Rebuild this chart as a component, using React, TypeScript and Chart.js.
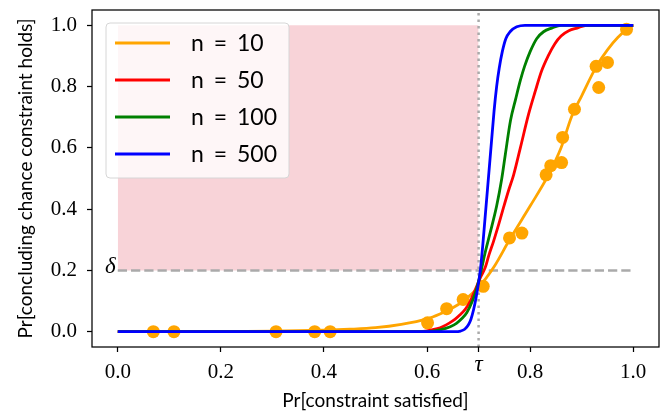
import React, { useEffect, useRef } from 'react';
import { Chart, registerables } from 'chart.js';

Chart.register(...registerables);

// ---- data ----
const seriesLabels = ['n = 10', 'n = 50', 'n = 100', 'n = 500'];
const seriesColors = ['#FFA500', '#FF0000', '#008000', '#0000FF'];

const n10X = [0, 0.1, 0.2, 0.3, 0.4, 0.45, 0.5, 0.55, 0.6, 0.625, 0.65, 0.67, 0.7, 0.73, 0.76, 0.8, 0.835, 0.86, 0.88, 0.9, 0.93, 0.95, 0.97, 0.99, 1.0];
const n10Y = [0, 0, 0.0005, 0.002, 0.005, 0.008, 0.013, 0.024, 0.042, 0.058, 0.078, 0.1, 0.145, 0.212, 0.3, 0.41, 0.51, 0.6, 0.7, 0.77, 0.87, 0.92, 0.96, 0.99, 1.0];

const n50X = [0, 0.58, 0.6, 0.62, 0.632, 0.643, 0.654, 0.664, 0.674, 0.684, 0.693, 0.703, 0.713, 0.72, 0.729, 0.739, 0.748, 0.758, 0.768, 0.781, 0.797, 0.81, 0.822, 0.835, 0.848, 0.86, 0.875, 0.891, 0.91, 1.0];
const n50Y = [0, 0, 0.003, 0.01, 0.018, 0.028, 0.04, 0.055, 0.073, 0.1, 0.135, 0.175, 0.21, 0.25, 0.295, 0.35, 0.403, 0.46, 0.512, 0.6, 0.71, 0.785, 0.85, 0.9, 0.94, 0.965, 0.982, 0.991, 1.0, 1.0];

const n100X = [0, 0.6, 0.625, 0.645, 0.657, 0.667, 0.677, 0.688, 0.697, 0.705, 0.713, 0.722, 0.735, 0.745, 0.752, 0.762, 0.772, 0.781, 0.789, 0.8, 0.813, 0.826, 0.842, 0.86, 1.0];
const n100Y = [0, 0, 0.006, 0.016, 0.027, 0.042, 0.062, 0.1, 0.145, 0.2, 0.26, 0.32, 0.41, 0.5, 0.58, 0.69, 0.76, 0.82, 0.865, 0.914, 0.957, 0.979, 0.991, 1.0, 1.0];

const n500X = [0, 0.655, 0.665, 0.673, 0.68, 0.685, 0.69, 0.695, 0.7, 0.704, 0.708, 0.712, 0.716, 0.72, 0.725, 0.73, 0.735, 0.74, 0.746, 0.753, 0.761, 0.774, 0.79, 1.0];
const n500Y = [0, 0, 0.002, 0.008, 0.022, 0.04, 0.07, 0.11, 0.16, 0.21, 0.28, 0.36, 0.44, 0.52, 0.62, 0.72, 0.8, 0.86, 0.914, 0.957, 0.979, 0.995, 1.0, 1.0];

const obsX = [0.069, 0.109, 0.307, 0.382, 0.412, 0.601, 0.638, 0.670, 0.709, 0.760, 0.784, 0.831, 0.840, 0.861, 0.863, 0.886, 0.928, 0.933, 0.950, 0.987];
const obsY = [0, 0, 0, 0, 0, 0.029, 0.075, 0.105, 0.148, 0.306, 0.322, 0.512, 0.542, 0.552, 0.634, 0.726, 0.866, 0.797, 0.879, 0.987];

const xTicks = [0, 0.2, 0.4, 0.6, 0.7, 0.8, 1.0];
const yTicks = [0, 0.2, 0.4, 0.6, 0.8, 1.0];
const tau = 0.7;
const delta = 0.2;
const xMin = -0.05, xMax = 1.05, yMin = -0.05, yMax = 1.05;

const xTitle = 'Pr[constraint satisfied]';
const yTitle = 'Pr[concluding chance constraint holds]';

const toPts = (xs: number[], ys: number[]) => xs.map((x, i) => ({ x, y: ys[i] }));

const LW = 2.8;

const decorPlugin = {
  id: 'decor',
  afterDatasetsDraw(chart: any) {
    const { ctx, chartArea: a, scales } = chart;
    ctx.save();
    // delta label
    ctx.font = 'italic 23px "Liberation Serif"';
    ctx.fillStyle = '#000';
    ctx.textAlign = 'right';
    ctx.textBaseline = 'middle';
    ctx.fillText('δ', scales.x.getPixelForValue(0) - 2, scales.y.getPixelForValue(delta) - 3);

    // legend
    const bx = a.left + 14, by = a.top + 13, bw = 183, bh = 155, r = 4;
    ctx.beginPath();
    ctx.moveTo(bx + r, by);
    ctx.lineTo(bx + bw - r, by);
    ctx.quadraticCurveTo(bx + bw, by, bx + bw, by + r);
    ctx.lineTo(bx + bw, by + bh - r);
    ctx.quadraticCurveTo(bx + bw, by + bh, bx + bw - r, by + bh);
    ctx.lineTo(bx + r, by + bh);
    ctx.quadraticCurveTo(bx, by + bh, bx, by + bh - r);
    ctx.lineTo(bx, by + r);
    ctx.quadraticCurveTo(bx, by, bx + r, by);
    ctx.closePath();
    ctx.fillStyle = 'rgba(255,255,255,0.8)';
    ctx.fill();
    ctx.strokeStyle = '#d6d6d6';
    ctx.lineWidth = 1;
    ctx.stroke();

    const items = chart.data.datasets.filter((d: any) => d.inLegend);
    items.forEach((d: any, i: number) => {
      const yy = by + 20 + i * 37;
      ctx.beginPath();
      ctx.moveTo(bx + 9, yy);
      ctx.lineTo(bx + 64, yy);
      ctx.strokeStyle = d.borderColor;
      ctx.lineWidth = LW;
      ctx.stroke();
      ctx.fillStyle = '#000';
      ctx.textBaseline = 'middle';
      ctx.font = '23px Lato';
      const parts = String(d.label).split(' = ');
      const tx = bx + 85;
      ctx.textAlign = 'left';
      ctx.fillText(parts[0], tx, yy + 1);
      ctx.textAlign = 'center';
      ctx.fillText('=', tx + 29.5, yy + 1);
      ctx.textAlign = 'left';
      ctx.fillText(parts[1] || '', tx + 46, yy + 1);
    });

    // frame
    ctx.strokeStyle = '#000';
    ctx.lineWidth = 1.25;
    ctx.strokeRect(a.left, a.top, a.right - a.left, a.bottom - a.top);
    ctx.restore();
  },
};

export default function App() {
  const ref = useRef<HTMLCanvasElement | null>(null);
  useEffect(() => {
    if (!ref.current) return;
    const curveData = [
      [n10X, n10Y],
      [n50X, n50Y],
      [n100X, n100Y],
      [n500X, n500Y],
    ];
    const curves = curveData.map(([xs, ys], i) => ({
      type: 'line',
      label: seriesLabels[i],
      inLegend: true,
      data: toPts(xs, ys),
      borderColor: seriesColors[i],
      backgroundColor: seriesColors[i],
      borderWidth: LW,
      pointRadius: 0,
      cubicInterpolationMode: 'monotone',
      fill: false,
      order: 4 - i,
    }));
    const chart = new Chart(ref.current, {
      type: 'line',
      data: {
        datasets: [
          ...curves,
          {
            type: 'scatter',
            label: 'observed',
            data: toPts(obsX, obsY),
            backgroundColor: seriesColors[0],
            borderWidth: 0,
            pointRadius: 6.5,
            order: 5,
          },
          {
            type: 'line',
            label: 'tau',
            data: [{ x: tau, y: yMin }, { x: tau, y: yMax }],
            borderColor: '#aaaaaa',
            borderWidth: 2.5,
            borderDash: [2.5, 4],
            pointRadius: 0,
            fill: false,
            order: 6,
          },
          {
            type: 'line',
            label: 'delta',
            data: [{ x: 0, y: delta }, { x: 1, y: delta }],
            borderColor: '#aaaaaa',
            borderWidth: 2.5,
            borderDash: [9.25, 4],
            pointRadius: 0,
            fill: false,
            order: 7,
          },
          {
            type: 'line',
            label: 'region',
            data: [{ x: 0, y: 1 }, { x: tau, y: 1 }],
            borderWidth: 0,
            borderColor: 'rgba(0,0,0,0)',
            backgroundColor: '#F8D3D8',
            pointRadius: 0,
            fill: { value: delta },
            order: 8,
          },
        ] as any,
      },
      options: {
        animation: false,
        responsive: false,
        maintainAspectRatio: false,
        events: [],
        layout: { padding: { left: 0, right: 7, top: 10, bottom: 0 } },
        plugins: {
          legend: { display: false },
          tooltip: { enabled: false },
        },
        scales: {
          x: {
            type: 'linear',
            min: xMin,
            max: xMax,
            afterBuildTicks: (s: any) => {
              s.ticks = xTicks.map((v) => ({ value: v }));
            },
            afterFit: (s: any) => {
              s.height = 70;
              s.paddingLeft = 0;
              s.paddingRight = 0;
            },
            border: { display: false },
            grid: {
              drawOnChartArea: false,
              drawTicks: true,
              tickLength: 5,
              tickColor: '#000',
              tickWidth: 1.25,
            },
            ticks: {
              autoSkip: false,
              maxRotation: 0,
              color: '#000',
              padding: 8,
              font: (ctx: any) =>
                ctx.tick && Math.abs(ctx.tick.value - tau) < 1e-9
                  ? { family: 'Liberation Serif', style: 'italic', size: 23, lineHeight: 0.45 }
                  : { family: 'Liberation Serif', size: 21 },
              callback: (v: any) => (Math.abs(v - tau) < 1e-9 ? 'τ' : Number(v).toFixed(1)),
            },
            title: {
              display: true,
              text: xTitle,
              color: '#000',
              font: { family: 'Lato', size: 19 },
              padding: { top: 0, bottom: 5 },
            },
          },
          y: {
            type: 'linear',
            min: yMin,
            max: yMax,
            afterBuildTicks: (s: any) => {
              s.ticks = yTicks.map((v) => ({ value: v }));
            },
            afterFit: (s: any) => {
              s.width = 92;
              s.paddingTop = 0;
              s.paddingBottom = 0;
            },
            border: { display: false },
            grid: {
              drawOnChartArea: false,
              drawTicks: true,
              tickLength: 5,
              tickColor: '#000',
              tickWidth: 1.25,
            },
            ticks: {
              color: '#000',
              padding: 10,
              font: { family: 'Liberation Serif', size: 21 },
              callback: (v: any) => Number(v).toFixed(1),
            },
            title: {
              display: true,
              text: yTitle,
              color: '#000',
              font: { family: 'Lato', size: 19 },
              padding: { top: 14, bottom: 0 },
            },
          },
        },
      } as any,
      plugins: [decorPlugin],
    });
    return () => chart.destroy();
  }, []);

  return (
    <div style={{ position: 'fixed', left: 0, top: 0, width: 666, height: 417, background: '#fff' }}>
      <canvas ref={ref} width={666} height={417} style={{ display: 'block', width: 666, height: 417 }} />
    </div>
  );
}
